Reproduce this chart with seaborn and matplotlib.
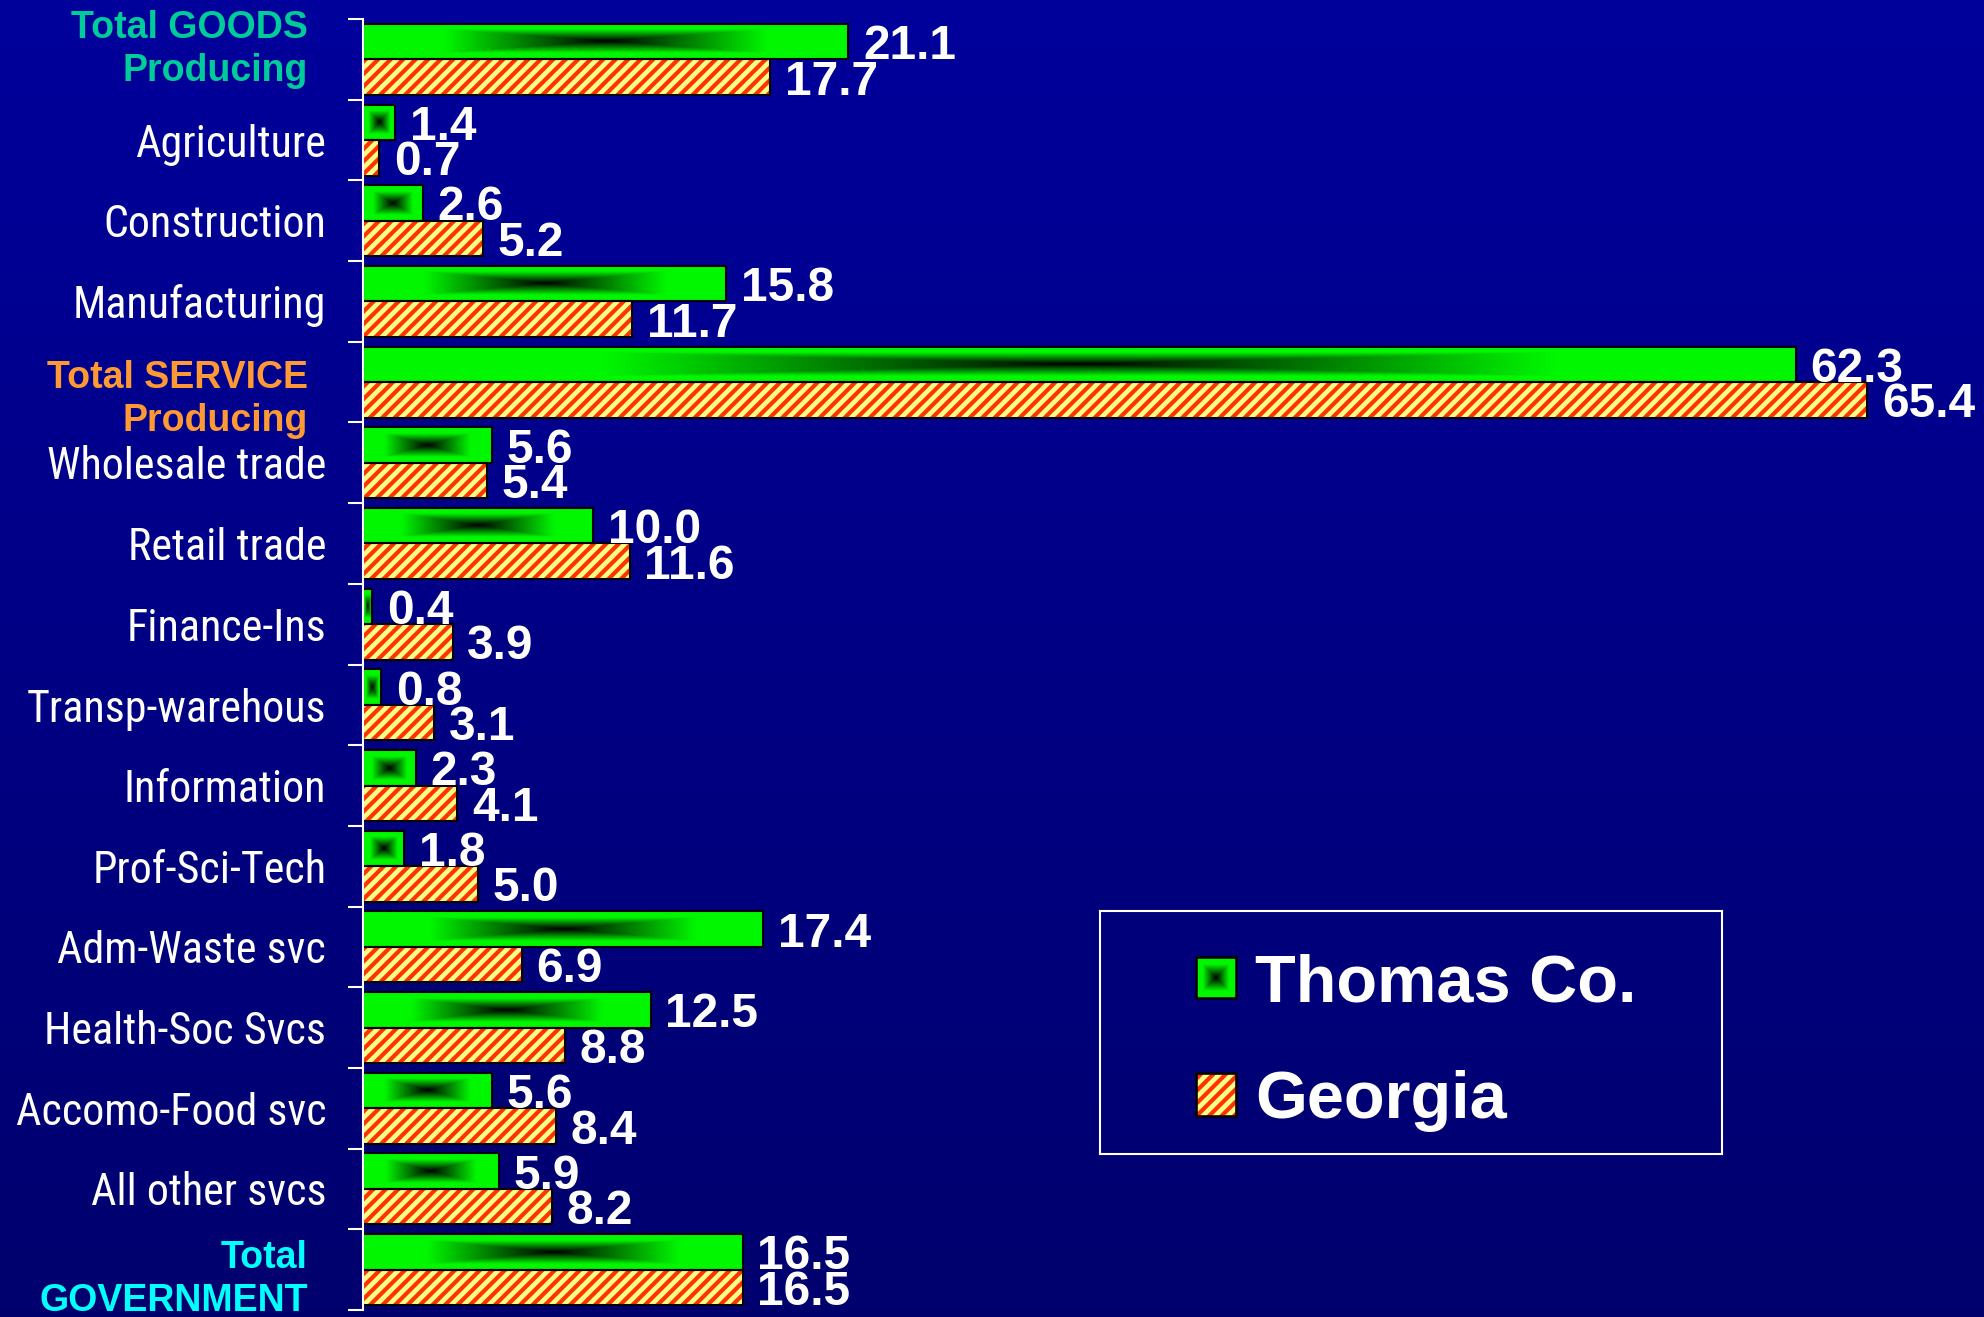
import numpy as np
import pandas as pd
import matplotlib
matplotlib.use('Agg')
import matplotlib.pyplot as plt
from matplotlib import font_manager as fm
from matplotlib.patches import Rectangle
import seaborn as sns

# ------------------------------------------------------------
# Data
# ------------------------------------------------------------
categories = ['Total GOODS\nProducing', 'Agriculture', 'Construction', 'Manufacturing',
              'Total SERVICE\nProducing', 'Wholesale trade', 'Retail trade', 'Finance-Ins',
              'Transp-warehous', 'Information', 'Prof-Sci-Tech', 'Adm-Waste svc',
              'Health-Soc Svcs', 'Accomo-Food svc', 'All other svcs', 'Total\nGOVERNMENT']
thomas = [21.1, 1.4, 2.6, 15.8, 62.3, 5.6, 10.0, 0.4, 0.8, 2.3, 1.8, 17.4, 12.5, 5.6, 5.9, 16.5]
georgia = [17.7, 0.7, 5.2, 11.7, 65.4, 5.4, 11.6, 3.9, 3.1, 4.1, 5.0, 6.9, 8.8, 8.4, 8.2, 16.5]
series = ['Thomas Co.', 'Georgia']
total_colors = {'Total GOODS\nProducing': '#00cc99',
                'Total SERVICE\nProducing': '#ff9933',
                'Total\nGOVERNMENT': '#00ffff'}
# small vertical nudges of the two-line labels (in rows)
total_shift = {'Total GOODS\nProducing': -0.12,
               'Total SERVICE\nProducing': 0.22,
               'Total\nGOVERNMENT': 0.12}

df = pd.DataFrame({
    'category': categories * 2,
    'series': [series[0]] * len(categories) + [series[1]] * len(categories),
    'value': thomas + georgia,
})

# ------------------------------------------------------------
# Style
# ------------------------------------------------------------
GREEN = '#00f700'
YELLOW = '#ffff88'
STRIPE = '#ff3300'
DPI = 75
W, H = 1984, 1317

plt.rcParams['hatch.linewidth'] = 4.0
BOLD = ['Liberation Sans', 'DejaVu Sans']


def pick_narrow():
    # look for a condensed / narrow face, else plain Liberation Sans
    for fam in ['Liberation Sans Narrow', 'Roboto Condensed', 'Noto Sans',
                'Open Sans', 'DejaVu Sans', 'Roboto']:
        try:
            path = fm.findfont(fm.FontProperties(family=fam, stretch='condensed'),
                               fallback_to_default=False)
        except ValueError:
            continue
        if 'Narrow' in path or 'Cond' in path:
            return fam, 'condensed'
    return 'Liberation Sans', 'normal'


NARROW, STRETCH = pick_narrow()


def box_gradient(nx, ny):
    # "from center" shading: dark core, bright green edges
    u = np.abs(np.linspace(-1, 1, nx))
    w = np.abs(np.linspace(-1, 1, ny))
    v = np.maximum(u[None, :], w[:, None])
    img = np.zeros((ny, nx, 3))
    img[..., 1] = np.clip(v * 1.5, 0, 1) * 0.97
    return img


fig = plt.figure(figsize=(W / DPI, H / DPI), dpi=DPI)
renderer = fig.canvas.get_renderer()

# background gradient
bg = fig.add_axes([0, 0, 1, 1], zorder=-10)
shade = np.linspace(0.61, 0.43, 256)
bg_img = np.zeros((256, 2, 3))
bg_img[..., 2] = shade[:, None]
bg.imshow(bg_img, aspect='auto', extent=(0, 1, 0, 1))
bg.axis('off')

ax = fig.add_axes([363 / W, 1 - 1310 / H, 1 - 363 / W, (1310 - 19) / H])
ax.set_facecolor('none')

sns.barplot(data=df, x='value', y='category', hue='series', orient='h',
            order=categories, hue_order=series, palette=[GREEN, YELLOW],
            width=0.88, saturation=1, linewidth=0, errorbar=None,
            legend=False, ax=ax)

# Thomas Co. bars: gradient fill + black outline
for p in ax.containers[0].patches:
    b = p.get_bbox()
    ax.imshow(box_gradient(600, 64), extent=(b.x0, b.x1, b.y1, b.y0),
              aspect='auto', interpolation='bilinear', zorder=2)
    ax.add_patch(Rectangle((b.x0, b.y0), b.width, b.height, fill=False,
                           edgecolor='black', linewidth=2, zorder=2.5))

# Georgia bars: yellow with red stripes + black outline
for p in ax.containers[1].patches:
    p.set_hatch('//')
    p.set_edgecolor(STRIPE)
    p.set_linewidth(0)
    b = p.get_bbox()
    ax.add_patch(Rectangle((b.x0, b.y0), b.width, b.height, fill=False,
                           edgecolor='black', linewidth=2, zorder=2.5))

# value labels
for cont, vals in zip(ax.containers, [thomas, georgia]):
    texts = ax.bar_label(cont, labels=[f'{v:.1f}' for v in vals], padding=14,
                         color='white', fontsize=46, fontweight='bold', family=BOLD)
    for t in texts:
        t.set_va('center_baseline')
        t.set_zorder(4)

# category labels, plain ones sized to match the original widths
cat_texts = {}
for i, cat in enumerate(categories):
    if cat in total_colors:
        ax.text(-2.4, i + total_shift[cat], cat, ha='right', va='center',
                color=total_colors[cat], fontsize=36, fontweight='bold',
                family=BOLD, linespacing=1.25)
    else:
        cat_texts[cat] = ax.text(-1.6, i, cat, ha='right', va='center_baseline',
                                 color='white', fontsize=46, family=NARROW,
                                 fontstretch=STRETCH)

ax.set_xlim(0, (W - 363) / 23.0)
ax.set_ylim(len(categories) - 0.5, -0.5)

w_norm = cat_texts['Manufacturing'].get_window_extent(renderer).width
s_norm = min(46, 46 * 253 / w_norm)
for t in cat_texts.values():
    t.set_fontsize(s_norm)

ax.set_xlabel('')
ax.set_ylabel('')
ax.set_xticks([])
ax.set_yticks([])
ax.set_yticks(np.arange(-0.5, len(categories), 1), minor=True)
ax.tick_params(axis='y', which='minor', length=14, width=2, color='white',
               direction='out', labelleft=False)
for s in ['top', 'right', 'bottom']:
    ax.spines[s].set_visible(False)
ax.spines['left'].set_color('white')
ax.spines['left'].set_linewidth(2)

# ------------------------------------------------------------
# Legend box
# ------------------------------------------------------------
lax = fig.add_axes([1100 / W, 1 - 1154 / H, 622 / W, 243 / H])
lax.set_xlim(0, 622)
lax.set_ylim(243, 0)
lax.set_facecolor('none')
lax.set_xticks([])
lax.set_yticks([])
for s in lax.spines.values():
    s.set_color('white')
    s.set_linewidth(2)

lax.imshow(box_gradient(40, 40), extent=(96, 136, 87, 46), aspect='auto',
           interpolation='bilinear', zorder=2)
lax.add_patch(Rectangle((96, 46), 40, 41, fill=False, edgecolor='black',
                        linewidth=2.5, zorder=3))
lax.add_patch(Rectangle((96, 162), 40, 43, facecolor=YELLOW, hatch='//',
                        edgecolor=STRIPE, linewidth=0, zorder=2))
lax.add_patch(Rectangle((96, 162), 40, 43, fill=False, edgecolor='black',
                        linewidth=2.5, zorder=3))
lax.text(155, 91, series[0], color='white', fontsize=64, fontweight='bold',
         family=BOLD, va='baseline', ha='left')
lax.text(155, 207, series[1], color='white', fontsize=64, fontweight='bold',
         family=BOLD, va='baseline', ha='left')

fig.savefig('out.png', dpi=DPI)
